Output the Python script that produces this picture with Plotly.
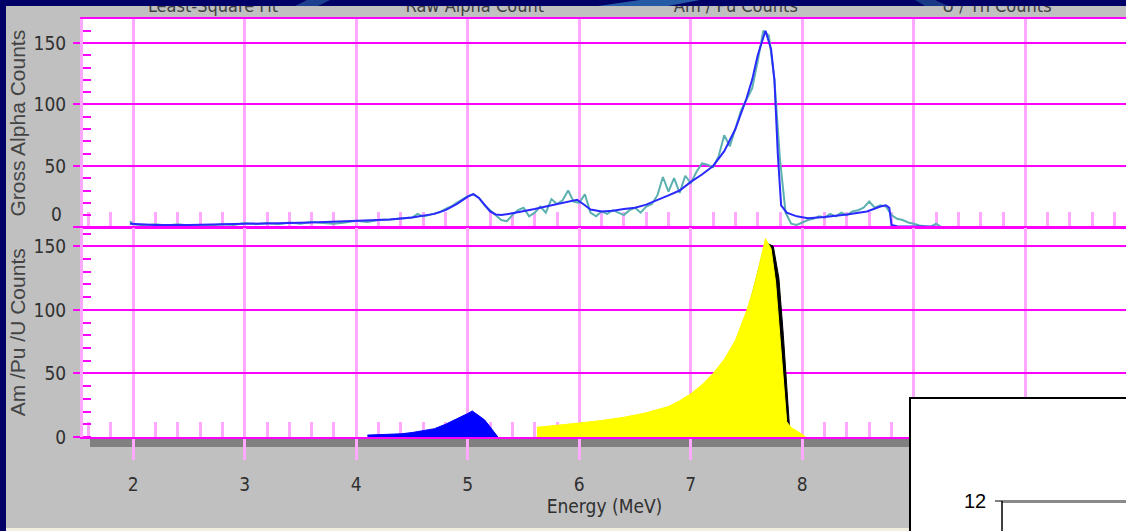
import plotly.graph_objects as go

W, H = 1126, 531

# ---------------- data ----------------
fit_energy = [1.97, 2.2, 2.5, 2.8, 3.0, 3.3, 3.6, 3.9, 4.1, 4.3, 4.5, 4.6, 4.7, 4.8, 4.9,
              5.0, 5.05, 5.1, 5.15, 5.2, 5.25, 5.3, 5.4, 5.5, 5.6, 5.7, 5.8, 5.9, 5.98,
              6.05, 6.1, 6.2, 6.3, 6.4, 6.5, 6.6, 6.7, 6.8, 6.9, 7.0, 7.1, 7.2, 7.3, 7.4,
              7.5, 7.55, 7.6, 7.67, 7.72, 7.75, 7.78, 7.81, 7.86, 7.95, 8.05, 8.2, 8.4,
              8.58, 8.7, 8.75, 8.78, 8.8, 8.85, 9.0, 9.2]
fit_counts = [3, 2, 2, 2.5, 3, 3.5, 4, 5, 5.5, 6.5, 8, 9.5, 11, 14, 19,
              25, 27, 24, 18, 13, 10.5, 10, 11.5, 13, 15, 17, 19, 21, 22.5,
              18, 14.5, 13, 13.5, 15, 16, 18.5, 22, 26, 30, 37, 43, 50, 62, 80,
              105, 120, 140, 160, 145, 120, 60, 18, 12, 9, 7.5, 8.5, 10.5,
              13, 17, 18, 16, 2, 1, 1, 0.5]

raw_energy = [1.97, 2.0, 2.1, 2.2, 2.3, 2.4, 2.5, 2.6, 2.7, 2.8, 2.9, 3.0, 3.1, 3.2, 3.3,
              3.4, 3.5, 3.6, 3.7, 3.8, 3.9, 4.0, 4.1, 4.2, 4.3, 4.4, 4.5, 4.55, 4.6, 4.65,
              4.7, 4.75, 4.8, 4.85, 4.9, 4.95, 5.0, 5.05, 5.1, 5.15, 5.2, 5.25, 5.3, 5.35,
              5.4, 5.45, 5.5, 5.55, 5.6, 5.65, 5.7, 5.75, 5.8, 5.85, 5.9, 5.95, 6.0, 6.05,
              6.1, 6.15, 6.2, 6.25, 6.3, 6.35, 6.4, 6.45, 6.5, 6.55, 6.6, 6.65, 6.7, 6.75,
              6.8, 6.85, 6.9, 6.95, 7.0, 7.05, 7.1, 7.15, 7.2, 7.25, 7.3, 7.35, 7.4, 7.45,
              7.5, 7.55, 7.6, 7.65, 7.7, 7.75, 7.8, 7.85, 7.9, 7.95, 8.0, 8.05, 8.1, 8.15,
              8.2, 8.25, 8.3, 8.35, 8.4, 8.45, 8.5, 8.55, 8.6, 8.65, 8.7, 8.75, 8.8, 8.85,
              8.9, 8.95, 9.0, 9.05, 9.1, 9.15, 9.2, 9.25, 10.5]
raw_counts = [5, 2.5, 1.5, 2.5, 1.5, 2.5, 1.5, 2, 1.5, 2.5, 2, 3.5, 2.5, 3.5, 2.5,
              4, 3, 4.5, 3.5, 3, 4, 5.5, 4.5, 6, 6.5, 7.5, 8, 11, 9, 10,
              11, 12.5, 15, 17, 20, 23, 25.5, 27, 24, 18, 14, 10, 6, 5,
              10, 14, 16, 9, 12, 17, 12, 23, 19, 22, 30, 21, 20, 27,
              12, 9, 13, 11, 14, 12, 10, 14, 16, 12, 17, 19, 26, 41,
              29, 40, 28, 42, 36, 45, 52, 51, 49, 58, 75, 66, 80, 95,
              104, 113, 135, 160, 156, 120, 55, 12, 3, 2, 4, 6, 7, 9,
              8, 11, 9, 12, 10, 13, 14, 16, 21, 16, 18, 17, 10, 7,
              6, 4, 3, 1.5, 1, 0.5, 3, 0, 0]

am_energy = [4.1, 4.3, 4.4, 4.5, 4.6, 4.7, 4.8, 4.9, 5.0, 5.04, 5.1, 5.15, 5.2, 5.27]
am_counts = [1.5, 2, 2.5, 3.5, 5, 6.5, 10, 14, 18.5, 20.5, 17, 13.5, 8, 0]

u_energy = [7.5, 7.6, 7.67, 7.74, 7.79, 7.83, 7.865, 7.885, 7.9]
u_counts = [95, 128, 153, 150, 125, 80, 35, 8, 0]

pu_energy = [5.62, 5.8, 6.0, 6.2, 6.4, 6.6, 6.8, 6.9, 7.0, 7.1, 7.2, 7.3, 7.4, 7.5,
             7.55, 7.6, 7.67, 7.72, 7.76, 7.8, 7.83, 7.86, 7.9, 7.95, 8.0, 8.03]
pu_counts = [7.6, 9, 11, 13, 15.5, 19, 24, 28.5, 34, 41, 50, 61, 76, 99,
             113, 130, 156, 148, 122, 78, 42, 12, 7.5, 5, 2, 0]

x_tick_vals = [2, 3, 4, 5, 6, 7, 8, 9, 10]
x_tick_text = ["2", "3", "4", "5", "6", "7", "8", "9", "10"]
y_tick_vals = [0, 50, 100, 150]
y_tick_text = ["0", "50", "100", "150"]
header_labels = ["Least-Square Fit", "Raw Alpha Count", "Am / Pu Counts", "U / Th Counts"]
inset_label = "12"

# ---------------- styling helpers ----------------
def px(x):
    return x / W

def py(y):
    return 1 - y / H

NAVY = "#000066"
PANEL = "#c0c0c0"
MAG = "#ff00ff"
PINK = "#ffa8ff"
NARROW = "Liberation Sans Narrow, DejaVu Sans Condensed, Liberation Sans, sans-serif"
SANS = "Liberation Sans, Arial, sans-serif"
XR = [1.549, 10.903]

fig = go.Figure()

# top plot: raw + fit
fig.add_trace(go.Scatter(x=raw_energy, y=raw_counts, mode="lines", name=header_labels[1],
                         line=dict(color="#5cb0b0", width=2), xaxis="x", yaxis="y"))
fig.add_trace(go.Scatter(x=fit_energy, y=fit_counts, mode="lines", name=header_labels[0],
                         line=dict(color="#2a2aff", width=2), xaxis="x", yaxis="y"))

# bottom plot: isotope areas
fig.add_trace(go.Scatter(x=am_energy, y=am_counts, mode="lines", fill="tozeroy",
                         fillcolor="#0000ff", line=dict(color="#0000ff", width=1),
                         xaxis="x2", yaxis="y2", name="Am"))
fig.add_trace(go.Scatter(x=u_energy, y=u_counts, mode="lines", fill="tozeroy",
                         fillcolor="#000000", line=dict(color="#000000", width=1),
                         xaxis="x2", yaxis="y2", name="U"))
fig.add_trace(go.Scatter(x=pu_energy, y=pu_counts, mode="lines", fill="tozeroy",
                         fillcolor="#ffff00", line=dict(color="#ffff00", width=1),
                         xaxis="x2", yaxis="y2", name="Pu"))

# header labels (partly hidden under the navy frame, like the original screenshot)
fig.add_trace(go.Scatter(x=[2.715, 5.063, 7.404, 9.745], y=[0.9] * 4, mode="text",
                         text=header_labels, cliponaxis=False,
                         textfont=dict(family=NARROW, size=18, color="#404040"),
                         xaxis="x3", yaxis="y3", hoverinfo="skip"))

common_x = dict(range=XR, domain=[px(83), 1], showgrid=True, gridcolor=PINK, gridwidth=3,
                tickmode="array", tickvals=x_tick_vals, zeroline=False, automargin=False,
                showline=True, linecolor=MAG, linewidth=2, mirror=True,
                layer="below traces",
                minor=dict(ticks="inside", ticklen=15, tickwidth=3, tickcolor=PINK,
                           tickmode="linear", tick0=0, dtick=0.2, showgrid=False))
common_y = dict(showgrid=True, gridcolor=MAG, gridwidth=2, zeroline=False, automargin=False,
                tickmode="array", tickvals=y_tick_vals,
                ticks="outside", ticklen=7, tickwidth=2, tickcolor=MAG,
                showline=True, linecolor=PINK, linewidth=3, layer="below traces",
                tickfont=dict(family=NARROW, size=19, color="#303030"),
                ticklabelstandoff=3,
                minor=dict(ticks="inside", ticklen=8, tickwidth=2, tickcolor=MAG,
                           tickmode="linear", tick0=0, dtick=10, showgrid=False))

fig.update_layout(
    width=W, height=H, autosize=False,
    margin=dict(l=0, r=0, t=0, b=0, pad=0),
    paper_bgcolor=PANEL, plot_bgcolor="white",
    showlegend=False,
    xaxis=dict(common_x, anchor="y", ticks="", showticklabels=False),
    yaxis=dict(common_y, anchor="x", domain=[py(227.4), py(19)], range=[0, 169.5],
               ticktext=[""] + y_tick_text[1:],
               title=dict(text="Gross Alpha Counts", standoff=3,
                          font=dict(family=SANS, size=21, color="#444444"))),
    xaxis2=dict(common_x, anchor="y2", ticks="outside", ticklen=21, tickwidth=3,
                tickcolor=PINK, showticklabels=True, ticktext=x_tick_text,
                tickfont=dict(family=NARROW, size=19, color="#303030"),
                ticklabelstandoff=8,
                title=dict(text="Energy (MeV)", standoff=6,
                           font=dict(family=NARROW, size=19, color="#303030"))),
    yaxis2=dict(common_y, anchor="x2", domain=[py(437), py(227.6)], range=[0, 164.7],
                ticktext=y_tick_text,
                title=dict(text="Am /Pu /U Counts", standoff=3,
                           font=dict(family=SANS, size=21, color="#444444"))),
    xaxis3=dict(range=XR, domain=[px(83), 1], visible=False, anchor="y3", automargin=False),
    yaxis3=dict(range=[0, 1], domain=[py(18.9), py(6)], visible=False, anchor="x3",
                automargin=False),
)

# top "0" label sits a little above its gridline in the original
fig.add_annotation(x=px(64), xref="paper", xanchor="right", y=y_tick_vals[0], yref="y",
                   yshift=13, text=y_tick_text[0], showarrow=False,
                   font=dict(family=NARROW, size=19, color="#303030"))

shapes = [
    # navy frame (top band drawn above so it hides the upper part of the header labels)
    dict(type="rect", xref="paper", yref="paper", x0=0, x1=1, y0=py(6), y1=1,
         fillcolor=NAVY, line_width=0, layer="above"),
    dict(type="rect", xref="paper", yref="paper", x0=0, x1=px(6), y0=0, y1=1,
         fillcolor=NAVY, line_width=0, layer="below"),
    # swooshes in top band
    dict(type="path", xref="paper", yref="paper",
         path=f"M {px(295)},{py(6)} L {px(307)},{py(0)} L {px(330)},{py(0)} L {px(318)},{py(6)} Z",
         fillcolor="#1d418f", line_width=0, layer="above"),
    dict(type="path", xref="paper", yref="paper",
         path=f"M {px(598)},{py(6)} L {px(640)},{py(0)} L {px(700)},{py(0)} L {px(668)},{py(6)} Z",
         fillcolor="#255aa5", line_width=0, layer="above"),
    dict(type="path", xref="paper", yref="paper",
         path=f"M {px(915)},{py(0)} L {px(935)},{py(0)} L {px(948)},{py(6)} L {px(925)},{py(6)} Z",
         fillcolor="#183a86", line_width=0, layer="above"),
    # gray strip behind header labels
    dict(type="rect", xref="paper", yref="paper", x0=px(6), x1=1, y0=py(18.9), y1=py(6),
         fillcolor=PANEL, line_width=0, layer="below"),
    # dark floor bar under the lower plot
    dict(type="rect", xref="paper", yref="paper", x0=px(90), x1=1, y0=py(447), y1=py(437),
         fillcolor="#808080", line_width=0, layer="below"),
    # cream strip at the bottom
    dict(type="rect", xref="paper", yref="paper", x0=px(6), x1=1, y0=0, y1=py(528),
         fillcolor="#f3efde", line_width=0, layer="below"),
    # overlapping inset box
    dict(type="rect", xref="paper", yref="paper", x0=px(910), x1=px(1130), y0=py(535), y1=py(398),
         fillcolor="white", line=dict(color="black", width=2), layer="above"),
    dict(type="line", xref="paper", yref="paper", x0=px(1002), x1=px(1130), y0=py(501.5), y1=py(501.5),
         line=dict(color="#8a8a8a", width=3), layer="above"),
    dict(type="line", xref="paper", yref="paper", x0=px(1002), x1=px(1002), y0=py(501), y1=py(535),
         line=dict(color="black", width=1.5), layer="above"),
    dict(type="line", xref="paper", yref="paper", x0=px(995), x1=px(1002), y0=py(501), y1=py(501),
         line=dict(color="black", width=1), layer="above"),
]
fig.update_layout(shapes=shapes)

fig.add_annotation(x=px(988), xref="paper", xanchor="right", y=py(501), yref="paper",
                   yanchor="middle", text=inset_label, showarrow=False,
                   font=dict(family=SANS, size=20, color="black"))

# place the figure at the page origin (remove the default body margin)
page_fix = ("document.body.style.margin='0';"
            "document.body.style.overflow='hidden';"
            "document.documentElement.style.overflow='hidden';")

fig.write_html("out.html", post_script=page_fix, config={"displayModeBar": False})
